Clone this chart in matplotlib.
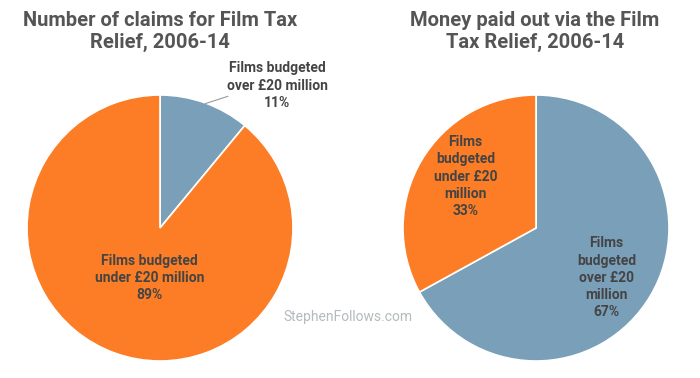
import matplotlib.pyplot as plt

plt.rcParams['font.family'] = ['Roboto', 'DejaVu Sans']

# data
claims_labels = ['Films budgeted\nover £20 million', 'Films budgeted\nunder £20 million']
claims_share = [11, 89]
money_labels = ['Films\nbudgeted\nover £20\nmillion', 'Films\nbudgeted\nunder £20\nmillion']
money_share = [67, 33]
titles = ['Number of claims for Film Tax\nRelief, 2006-14',
          'Money paid out via the Film\nTax Relief, 2006-14']
colors = ['#7a9fb9', '#fc7d26']
text_col = '#444444'

W, H = 700, 378
fig = plt.figure(figsize=(7, 3.78), dpi=100)

def pie_axes(cx, cy, r):
    return fig.add_axes([(cx - r) / W, (H - cy - r) / H, 2 * r / W, 2 * r / H])

lab = dict(ha='center', va='center', fontsize=10, fontweight='bold',
           color=text_col, linespacing=1.3)

# left pie
ax1 = pie_axes(160, 228, 133)
ax1.pie(claims_share, colors=colors, startangle=90, counterclock=False,
        wedgeprops=dict(edgecolor='white', linewidth=1.2))
ax1.set_xlim(-1, 1)
ax1.set_ylim(-1, 1)
ax1.text(0.88, 1.07, f'{claims_labels[0]}\n{claims_share[0]}%', **lab)
ax1.plot([0.34, 0.51], [0.935, 0.99], color='#9a9a9a', lw=0.8, clip_on=False)
ax1.text(-0.08, -0.375, f'{claims_labels[1]}\n{claims_share[1]}%', **lab)

# right pie
ax2 = pie_axes(536, 228, 133)
ax2.pie(money_share, colors=colors, startangle=90, counterclock=False,
        wedgeprops=dict(edgecolor='white', linewidth=1.2))
ax2.set_xlim(-1, 1)
ax2.set_ylim(-1, 1)
ax2.text(0.53, -0.375, f'{money_labels[0]}\n{money_share[0]}%', **lab)
ax2.text(-0.53, 0.385, f'{money_labels[1]}\n{money_share[1]}%', **lab)

# titles
for x, t in zip([160, 535], titles):
    fig.text(x / W, 1 - 31.5 / H, t, ha='center', va='center', fontsize=14.5,
             fontweight='bold', color='#555555', linespacing=1.2)

fig.text(348 / W, 1 - 317 / H, 'StephenFollows.com', ha='center', va='center',
         fontsize=10, color='#b5babd')

fig.savefig('out.png', dpi=100, facecolor='white')
